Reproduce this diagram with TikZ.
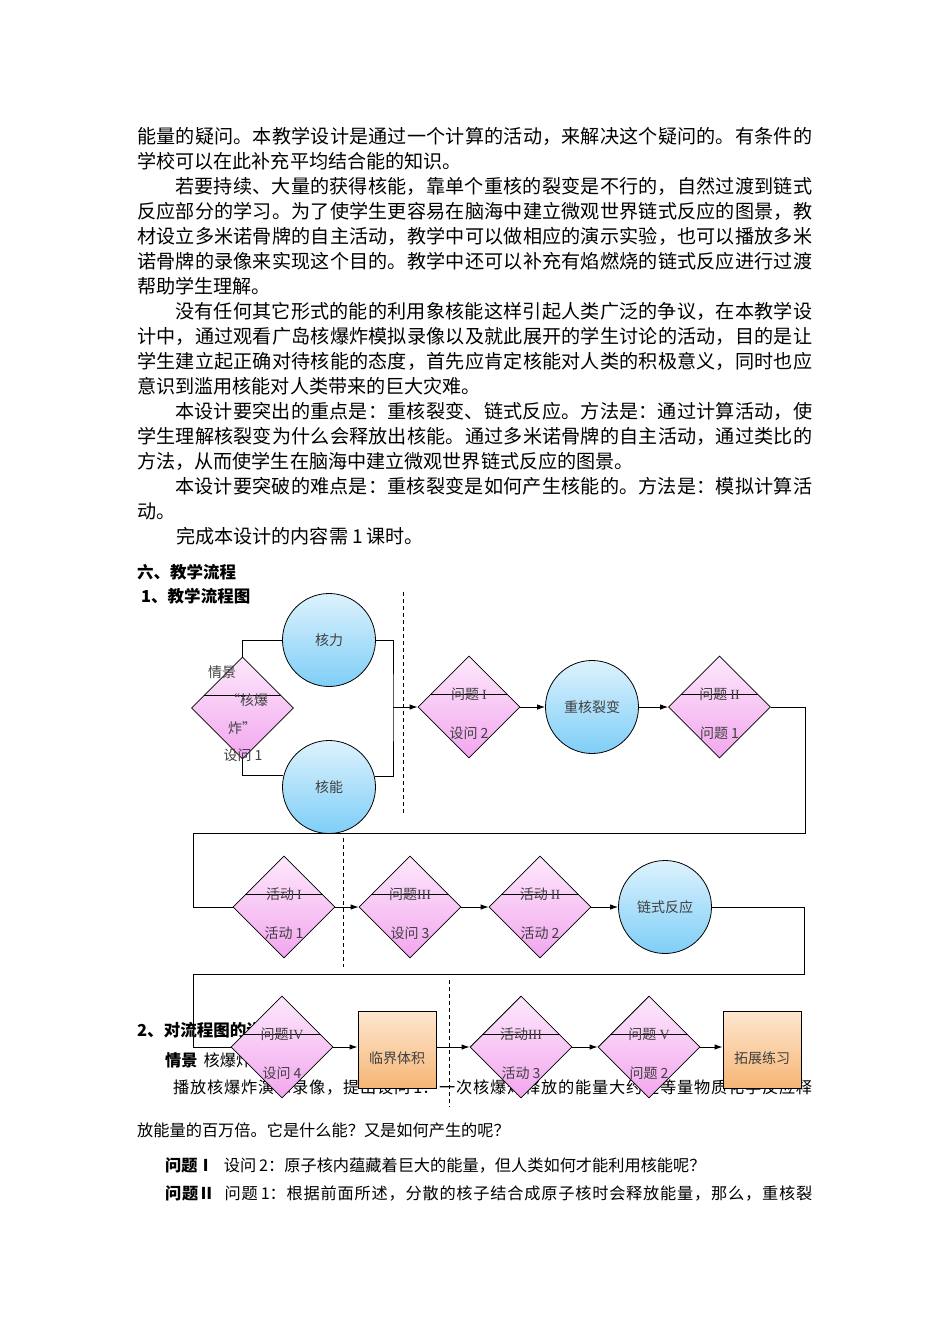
\documentclass[tikz,border=0pt]{standalone}
\usepackage{fontspec}
\setmainfont{Noto Sans CJK SC}
\newfontfamily\romanfont{Liberation Serif}
\usetikzlibrary{positioning,shapes.geometric,arrows.meta,calc}

% stretchable glue between CJK characters, so that full lines can be justified
\XeTeXinterchartokenstate=1
\newXeTeXintercharclass\cjkclass
\newcommand\setcjkrange[2]{%
  \count255=#1
  \loop \XeTeXcharclass\count255=\cjkclass \advance\count255 by 1
  \ifnum\count255<#2 \repeat}
\setcjkrange{"3000}{"3040}
\setcjkrange{"4E00}{"A000}
\setcjkrange{"FF00}{"FFF0}
\XeTeXinterchartoks\cjkclass\cjkclass={\hskip 0pt plus 1pt}

\definecolor{dmtop}{HTML}{FDE8FC}
\definecolor{dmbot}{HTML}{F2A6EE}
\definecolor{cirtop}{HTML}{DDF2FD}
\definecolor{cirbot}{HTML}{7ECEF7}
\definecolor{boxtop}{HTML}{FDE7D0}
\definecolor{boxbot}{HTML}{F6B574}
\definecolor{lbl}{HTML}{404040}

\begin{document}
\begin{tikzpicture}[x=1pt, y=-1pt,
    txt/.style={anchor=west, inner sep=0pt, font=\fontsize{19.1}{19}\selectfont},
    txts/.style={anchor=west, inner sep=0pt, font=\fontsize{16.2}{16}\selectfont},
    head/.style={anchor=west, inner sep=0pt, font=\fontsize{16.5}{16}\selectfont\bfseries},
    qdiam/.style={diamond, draw, line width=0.8pt, top color=dmtop, bottom color=dmbot,
        minimum width=102pt, minimum height=102pt, inner sep=0pt},
    qball/.style={circle, draw, line width=0.8pt, top color=cirtop, bottom color=cirbot,
        minimum size=93pt, inner sep=0pt, text=lbl, font=\fontsize{14}{14}\selectfont},
    qbox/.style={rectangle, draw, line width=0.9pt, top color=boxtop, bottom color=boxbot,
        minimum width=78pt, minimum height=77pt},
    qtag/.style={inner sep=0pt, text=lbl, font=\fontsize{14}{14}\selectfont},
    conn/.style={line width=0.9pt},
    arr/.style={conn, -{Latex[length=8pt,width=5.5pt]}},
    divider/.style={line width=0.8pt, dash pattern=on 4pt off 3pt}]

    \fill[white] (0,0) rectangle (950,1344);
    \useasboundingbox (0,0) rectangle (950,1344);

    % body text
    \node[txt] (t1) at (137,136) {\makebox[675pt][s]{能量的疑问。本教学设计是通过一个计算的活动，来解决这个疑问的。有条件的}};
    \node[txt] (t2) at (137,161) {学校可以在此补充平均结合能的知识。};
    \node[txt] (t3) at (175,186) {\makebox[637pt][s]{若要持续、大量的获得核能，靠单个重核的裂变是不行的，自然过渡到链式}};
    \node[txt] (t4) at (137,211) {\makebox[675pt][s]{反应部分的学习。为了使学生更容易在脑海中建立微观世界链式反应的图景，教}};
    \node[txt] (t5) at (137,236) {\makebox[675pt][s]{材设立多米诺骨牌的自主活动，教学中可以做相应的演示实验，也可以播放多米}};
    \node[txt] (t6) at (137,261) {\makebox[675pt][s]{诺骨牌的录像来实现这个目的。教学中还可以补充有焰燃烧的链式反应进行过渡}};
    \node[txt] (t7) at (137,286) {帮助学生理解。};
    \node[txt] (t8) at (175,311) {\makebox[637pt][s]{没有任何其它形式的能的利用象核能这样引起人类广泛的争议，在本教学设}};
    \node[txt] (t9) at (137,336) {\makebox[675pt][s]{计中，通过观看广岛核爆炸模拟录像以及就此展开的学生讨论的活动，目的是让}};
    \node[txt] (t10) at (137,361) {\makebox[675pt][s]{学生建立起正确对待核能的态度，首先应肯定核能对人类的积极意义，同时也应}};
    \node[txt] (t11) at (137,386) {意识到滥用核能对人类带来的巨大灾难。};
    \node[txt] (t12) at (175,411) {\makebox[637pt][s]{本设计要突出的重点是：重核裂变、链式反应。方法是：通过计算活动，使}};
    \node[txt] (t13) at (137,436) {\makebox[675pt][s]{学生理解核裂变为什么会释放出核能。通过多米诺骨牌的自主活动，通过类比的}};
    \node[txt] (t14) at (137,461) {方法，从而使学生在脑海中建立微观世界链式反应的图景。};
    \node[txt] (t15) at (175,486) {\makebox[637pt][s]{本设计要突破的难点是：重核裂变是如何产生核能的。方法是：模拟计算活}};
    \node[txt] (t16) at (137,511) {动。};
    \node[txt] (t17) at (176,536) {完成本设计的内容需\kern4pt 1\kern4pt 课时。};

    \node[head] (h6) at (137,572) {六、教学流程};
    \node[head] (h61) at (141,596) {1、教学流程图};
    \node[head] (h62) at (137,1030) {2、对流程图的说明};

    \node[txts] (s1) at (165,1060) {{\bfseries 情景}\kern6pt 核爆炸};
    \node[txts] (s2) at (173,1087) {\makebox[639pt][s]{播放核爆炸演示录像，提出设问\kern3pt 1：一次核爆炸释放的能量大约是等量物质化学反应释}};
    \node[txts] (s3) at (137,1130) {放能量的百万倍。它是什么能？又是如何产生的呢？};
    \node[txts] (s4) at (165,1165) {{\bfseries 问题Ⅰ}\kern10pt 设问\kern3pt 2：原子核内蕴藏着巨大的能量，但人类如何才能利用核能呢？};
    \node[txts] (s5) at (165,1193) {\makebox[647pt][s]{{\bfseries 问题Ⅱ}\kern10pt 问题\kern3pt 1：根据前面所述，分散的核子结合成原子核时会释放能量，那么，重核裂}};

    % flow chart
    \draw[divider] (403,592) -- (403,815);
    \draw[divider] (343,838) -- (343,967);
    \draw[divider] (449,980) -- (449,1107);

    \node[qdiam] (qj) at (242.5,708) {};
    \draw[conn] ($(qj.west)!0.25!(qj.north)$) -- ($(qj.east)!0.25!(qj.north)$);
    \node[qtag] (qj-a) at (222,672) {情景};
    \node[qtag] (qj-b) at (247,700) {“核爆};
    \node[qtag] (qj-c) at (242,728) {炸”};
    \node[qtag] (qj-d) at (243,755) {设问 1};

    \node[qball] (lihe) at (329,640) {核力};
    \node[qball] (heneng) at (329,787) {核能};
    \node[qball] (liebian) at (592,707) {重核裂变};
    \node[qball] (lianshi) at (665,907) {链式反应};

    \foreach \nm/\cx/\cy/\up/\dn in {w1/469/707/问题 {\romanfont I}/设问 2,
        w2/719.5/707/问题 {\romanfont II}/问题 1,
        h1/284/907/活动 {\romanfont I}/活动 1,
        w3/410/907/问题{\romanfont III}/设问 3,
        h2/540/907/活动 {\romanfont II}/活动 2,
        w4/282/1047/问题{\romanfont IV}/设问 4,
        h3/521/1047/活动{\romanfont III}/活动 3,
        w5/649/1047/问题 {\romanfont V}/问题 2} {
        \node[qdiam] (\nm) at (\cx,\cy) {};
        \draw[conn] ($(\nm.west)!0.25!(\nm.north)$) -- ($(\nm.east)!0.25!(\nm.north)$);
        \node[qtag] (\nm-up) at ($(\nm.center)+(0,-12.5)$) {\up};
        \node[qtag] (\nm-dn) at ($(\nm.center)+(0,26.5)$) {\dn};
    }

    \node[qbox] (linjie) at (397,1050) {};
    \node[qtag] (linjie-t) at (397,1058) {临界体积};
    \node[qbox] (tuozhan) at (762,1050) {};
    \node[qtag] (tuozhan-t) at (762,1058) {拓展练习};

    % connectors
    \coordinate (hb) at (393,707);
    \draw[conn] (qj.north) |- (lihe.west);
    \draw[conn] (qj.south) |- (heneng.166.5);
    \draw[conn] (lihe.east) -| (hb) |- (heneng.13.5);
    \draw[arr] (hb) -- (w1.west);
    \draw[arr] (w1.east) -- (liebian.west);
    \draw[arr] (liebian.east) -- (w2.west);

    \coordinate (r1) at (805,833);
    \coordinate (l1) at (193,833);
    \draw[conn] (w2.east) -| (r1) -- (l1) |- (h1.west);
    \draw[arr] (h1.east) -- (w3.west);
    \draw[arr] (w3.east) -- (h2.west);
    \draw[arr] (h2.east) -- (lianshi.west);

    \coordinate (r2) at (804,974);
    \coordinate (l2) at (193,974);
    \draw[conn] (lianshi.east) -| (r2) -- (l2) |- (w4.west);
    \draw[arr] (w4.east) -- (w4.east -| linjie.west);
    \draw[arr] (linjie.east |- h3.west) -- (h3.west);
    \draw[arr] (h3.east) -- (w5.west);
    \draw[arr] (w5.east) -- (w5.east -| tuozhan.west);
\end{tikzpicture}
\end{document}
